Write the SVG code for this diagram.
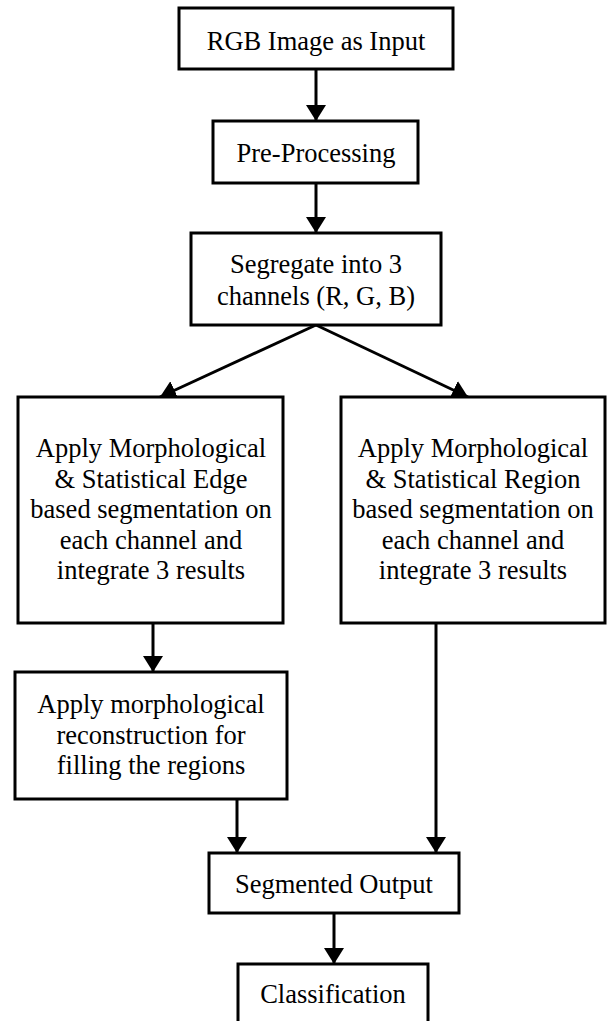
<svg xmlns="http://www.w3.org/2000/svg" width="612" height="1021" viewBox="0 0 612 1021">
<style>
.box{fill:#fff;stroke:#000;stroke-width:3}
.t{font-family:"Liberation Serif","Times New Roman",serif;font-size:26.5px;fill:#000;text-anchor:middle}
.c{stroke:#000;stroke-width:3;fill:none;marker-end:url(#ah)}
</style>
<defs>
<marker id="ah" viewBox="0 0 16 20" refX="16" refY="10" markerWidth="16" markerHeight="20" markerUnits="userSpaceOnUse" orient="auto">
<path d="M0,0 L16,10 L0,20 z" fill="#000"/>
</marker>
</defs>
<rect width="612" height="1021" fill="#fff"/>
<g id="connectors">
<line class="c" x1="316" y1="69" x2="316" y2="121"/>
<line class="c" x1="316" y1="183" x2="316" y2="233"/>
<line class="c" x1="316" y1="325" x2="160" y2="397"/>
<line class="c" x1="316" y1="325" x2="468" y2="397"/>
<line class="c" x1="153" y1="623" x2="153" y2="672"/>
<line class="c" x1="237" y1="799" x2="237" y2="853"/>
<line class="c" x1="436" y1="623" x2="436" y2="853"/>
<line class="c" x1="334" y1="913" x2="334" y2="964"/>
</g>
<g id="n1"><rect class="box" x="179" y="8" width="274" height="61"/><text class="t" x="316" y="50">RGB Image as Input</text></g>
<g id="n2"><rect class="box" x="213" y="121" width="205" height="62"/><text class="t" x="316" y="162">Pre-Processing</text></g>
<g id="n3"><rect class="box" x="191" y="233" width="250" height="92"/><text class="t" x="316" y="273">Segregate into 3</text><text class="t" x="316" y="305">channels (R, G, B)</text></g>
<g id="n4"><rect class="box" x="18" y="397" width="265" height="226"/>
<text class="t" x="151" y="457">Apply Morphological</text>
<text class="t" x="151" y="487.5">&amp; Statistical Edge</text>
<text class="t" x="151" y="518">based segmentation on</text>
<text class="t" x="151" y="548.5">each channel and</text>
<text class="t" x="151" y="579">integrate 3 results</text></g>
<g id="n5"><rect class="box" x="341" y="397" width="264" height="226"/>
<text class="t" x="473" y="457">Apply Morphological</text>
<text class="t" x="473" y="487.5">&amp; Statistical Region</text>
<text class="t" x="473" y="518">based segmentation on</text>
<text class="t" x="473" y="548.5">each channel and</text>
<text class="t" x="473" y="579">integrate 3 results</text></g>
<g id="n6"><rect class="box" x="15" y="672" width="272" height="127"/>
<text class="t" x="151" y="713">Apply morphological</text>
<text class="t" x="151" y="743.5">reconstruction for</text>
<text class="t" x="151" y="774">filling the regions</text></g>
<g id="n7"><rect class="box" x="209" y="853" width="250" height="60"/><text class="t" x="334" y="893">Segmented Output</text></g>
<g id="n8"><rect class="box" x="238" y="964" width="190" height="70"/><text class="t" x="333" y="1003">Classification</text></g>
</svg>
